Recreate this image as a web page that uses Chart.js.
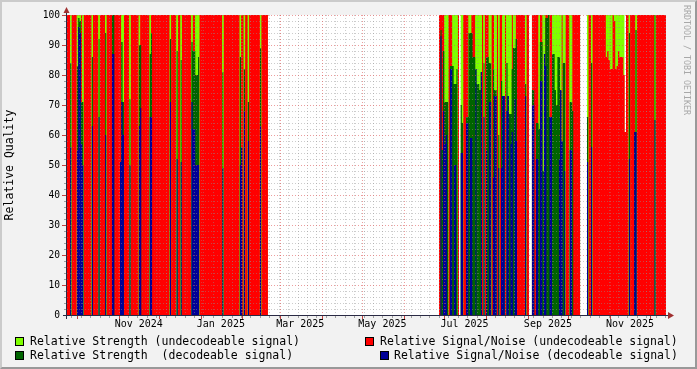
<!DOCTYPE html>
<html><head><meta charset="utf-8">
<script src="https://cdn.jsdelivr.net/npm/chart.js@4/dist/chart.umd.min.js"></script>
<style>
html,body{margin:0;padding:0;}
body{width:697px;height:369px;background:#f2f2f2;position:relative;overflow:hidden;font-family:"DejaVu Sans Mono",monospace;}
#frame{position:absolute;left:0;top:0;width:697px;height:369px;box-sizing:border-box;border-top:2px solid #cbcbcb;border-left:2px solid #cbcbcb;border-right:2px solid #999;border-bottom:2px solid #999;pointer-events:none;}
canvas{position:absolute;left:0;top:0;}
.lg{position:absolute;font-size:11.5px;line-height:14px;white-space:pre;color:#000;}
.sw{position:absolute;width:9px;height:9px;box-sizing:border-box;border:1px solid #000;}
#wm{position:absolute;left:692px;top:5px;transform:rotate(90deg);transform-origin:left top;font-size:8.3px;line-height:10px;color:#a8a8a8;white-space:pre;}
</style></head>
<body>
<canvas id="c" width="697" height="369"></canvas>
<div id="frame"></div>
<div class="sw" style="left:15px;top:337px;background:#7fff00"></div>
<div class="lg" style="left:30px;top:334px">Relative Strength (undecodeable signal)</div>
<div class="sw" style="left:15px;top:351px;background:#006400"></div>
<div class="lg" style="left:30px;top:348px">Relative Strength  (decodeable signal)</div>
<div class="sw" style="left:365px;top:337px;background:#ff0000"></div>
<div class="lg" style="left:380px;top:334px">Relative Signal/Noise (undecodeable signal)</div>
<div class="sw" style="left:380px;top:351px;background:#000096"></div>
<div class="lg" style="left:394px;top:348px">Relative Signal/Noise (decodeable signal)</div>
<div id="wm">RRDTOOL / TOBI OETIKER</div>
<script>
// x values are days since 2024-09-23 00:00
const X_MIN = 0.7, X_MAX = 445.7;
const monthStartDays = [8,39,69,100,131,159,190,220,251,281,312,343,373,404,434];
const tickLabelDays = [54,115,174,235,296,358,419];
const tickLabels = ['Nov 2024','Jan 2025','Mar 2025','May 2025','Jul 2025','Sep 2025','Nov 2025'];

// Relative Strength (undecodeable signal): [firstDay, lastDay, value]
const strengthUndecodedRuns = [[0,149,100],[277,291,100],[293,343,100],[346,381,100],[387,414,100],[416,445,100]];

// Relative Signal/Noise (undecodeable signal): [firstDay, lastDay, value]
const snrUndecodedRuns = [
  [0,2,100],[4,7,100],[11,11,100],[13,18,100],[20,23,100],[25,28,100],[30,40,100],[43,46,100],[48,53,100],[55,61,100],
  [63,76,100],[78,81,100],[83,84,100],[86,92,100],[94,95,100],[99,115,100],[117,128,100],[130,131,100],[133,134,100],
  [136,143,100],[145,149,100],
  [277,280,100],[284,286,100],[291,291,100],[295,298,100],[301,303,100],[309,309,100],[311,313,100],[316,317,100],
  [320,320,100],[322,323,100],[326,326,100],[331,331,100],[334,340,100],[342,343,100],[346,350,100],[352,353,100],
  [356,357,100],[359,360,100],[368,368,100],[371,373,100],[376,381,100],
  [388,389,100],[391,400,100],[401,401,86],[402,402,88],[403,403,85],[404,405,82],[406,406,100],[407,407,98],
  [408,408,82],[409,409,83],[410,410,88],[411,413,86],[414,414,80],[415,415,61],[416,417,100],[419,422,100],
  [424,436,100],[438,445,100]
];

// decoded samples (null = no value)
const decodeDays = [3,8,9,10,11,12,19,24,29,34,35,40,41,42,47,54,55,62,63,77,82,85,93,94,95,96,97,98,116,129,130,132,135,144,
  278,279,280,281,282,283,285,286,287,288,289,290,293,294,297,298,299,300,301,302,303,304,305,306,307,308,310,
  312,313,314,315,317,318,319,321,323,324,325,327,328,329,330,331,332,333,334,341,346,347,
  349,350,351,352,353,354,355,356,357,358,359,360,361,362,363,364,365,366,367,368,369,370,374,375,376,
  387,390,418,422,423,437];
const strengthDecoded = [84,83,99,98,71,71,86,92,94,100,100,51,91,71,72,90,90,87,94,92,88,85,91,88,88,80,80,86,81,86,56,82,71,89,
  95,55,88,71,71,71,83,83,83,77,77,82,70,64,66,66,94,94,94,86,86,82,77,77,75,81,84,
  86,86,84,84,82,75,75,60,78,73,73,84,73,67,67,82,89,89,92,77,75,75,
  64,64,62,91,91,48,80,99,99,100,66,66,87,87,75,70,86,86,75,58,84,84,71,71,68,
  66,84,94,61,95,100];
const snrDecoded = [56,55,96,94,57,50,63,66,60,87,87,51,71,60,50,63,69,66,66,71,52,51,71,62,62,50,50,50,49,50,56,68,58,63,
  93,null,68,57,60,null,82,82,null,50,50,null,54,54,64,64,null,59,59,null,null,82,null,null,null,81,66,
  55,null,71,71,46,73,73,49,49,73,73,68,73,null,57,61,null,72,58,73,70,70,
  52,52,null,78,78,null,87,83,null,null,66,66,null,null,null,null,null,52,75,58,null,48,55,55,null,
  51,56,52,61,61,65];

function runsToPoints(runs) {
  const pts = [];
  let prevEnd = null;
  runs.forEach(([a, b, v]) => {
    if (v === null || v === undefined) return;
    if (prevEnd !== null && prevEnd !== a) pts.push({x: a, y: null});
    pts.push({x: a, y: v});
    pts.push({x: b + 1, y: v});
    prevEnd = b + 1;
  });
  return pts;
}
const dayRuns = (days, vals) => days.map((d, i) => [d, d, vals[i]]).filter(r => r[2] !== null);

const COLORS = {lime:'#7fff00', red:'#ff0000', green:'#006400', blue:'#000096'};
function ds(label, runs, color, order) {
  return {label, data: runsToPoints(runs), backgroundColor: color, borderColor: 'rgba(0,0,0,0)', borderWidth: 0,
    pointRadius: 0, fill: 'origin', tension: 0, spanGaps: false, order};
}

const rrdGrid = {
  id: 'rrdGrid',
  beforeDraw(chart) {
    const {ctx, chartArea: a} = chart;
    ctx.save(); ctx.fillStyle = '#ffffff';
    ctx.fillRect(a.left, a.top, a.right - a.left, a.bottom - a.top);
    ctx.restore();
  },
  afterDatasetsDraw(chart) {
    const {ctx, chartArea: a, scales: {x, y}} = chart;
    const MINOR = 'rgba(143,143,143,0.46)', MAJOR = 'rgba(222,80,80,0.56)';
    const seg = (x1, y1, x2, y2, c) => { ctx.strokeStyle = c; ctx.beginPath(); ctx.moveTo(x1, y1); ctx.lineTo(x2, y2); ctx.stroke(); };
    const yp = v => Math.round(y.getPixelForValue(v)) + 0.5;
    const xp = v => Math.round(x.getPixelForValue(v)) + 0.5;
    const weekDays = [];
    for (let d = 4; d < X_MAX; d += 7) if (d > X_MIN) weekDays.push(d);
    ctx.save();
    ctx.lineWidth = 1;
    ctx.setLineDash([1, 2]);
    for (let v = 2; v < 100; v += 2) if (v % 10) seg(a.left, yp(v), a.right, yp(v), MINOR);
    weekDays.forEach(d => seg(xp(d), a.top, xp(d), a.bottom, MINOR));
    for (let v = 10; v <= 100; v += 10) seg(a.left, yp(v), a.right, yp(v), MAJOR);
    monthStartDays.forEach(d => seg(xp(d), a.top, xp(d), a.bottom, MAJOR));
    ctx.setLineDash([]);
    for (let v = 2; v <= 100; v += 2) {
      if (v % 10) seg(64, yp(v), 66, yp(v), '#a0a0a0'); else seg(62, yp(v), 66, yp(v), '#c04040');
    }
    weekDays.forEach(d => seg(xp(d), 316, xp(d), 318, '#a0a0a0'));
    monthStartDays.forEach(d => seg(xp(d), 316, xp(d), 319, '#c04040'));
    seg(63, 315.5, 669, 315.5, '#2a2a44');
    seg(66.5, 319, 66.5, 11, '#2a2a44');
    ctx.fillStyle = '#a03030';
    ctx.beginPath(); ctx.moveTo(668, 312); ctx.lineTo(674, 315.5); ctx.lineTo(668, 319); ctx.closePath(); ctx.fill();
    ctx.beginPath(); ctx.moveTo(63.5, 13); ctx.lineTo(66.5, 7); ctx.lineTo(69.5, 13); ctx.closePath(); ctx.fill();
    ctx.restore();
  }
};

new Chart(document.getElementById('c'), {
  type: 'line',
  data: {datasets: [
    ds('Relative Signal/Noise (decodeable signal)', dayRuns(decodeDays, snrDecoded), COLORS.blue, 0),
    ds('Relative Strength  (decodeable signal)', dayRuns(decodeDays, strengthDecoded), COLORS.green, 1),
    ds('Relative Signal/Noise (undecodeable signal)', snrUndecodedRuns, COLORS.red, 2),
    ds('Relative Strength (undecodeable signal)', strengthUndecodedRuns, COLORS.lime, 3)
  ]},
  options: {
    responsive: false, devicePixelRatio: 1, animation: false, events: [],
    layout: {padding: {left: 0, right: 31, top: 15, bottom: 34}},
    plugins: {legend: {display: false}, tooltip: {enabled: false}},
    scales: {
      x: {
        type: 'linear', min: X_MIN, max: X_MAX,
        afterBuildTicks(s) { s.ticks = tickLabelDays.map(v => ({value: v})); },
        afterFit(s) { s.height = 20; },
        grid: {display: false, drawTicks: false}, border: {display: false},
        ticks: {autoSkip: false, maxRotation: 0, padding: 3, color: '#000',
          font: {family: 'DejaVu Sans Mono', size: 10},
          callback: (v) => tickLabels[tickLabelDays.indexOf(v)]}
      },
      y: {
        min: 0, max: 100,
        afterFit(s) { s.width = 67; },
        grid: {display: false, drawTicks: false}, border: {display: false},
        ticks: {stepSize: 10, padding: 7, color: '#000', font: {family: 'DejaVu Sans Mono', size: 9.6}},
        title: {display: true, text: 'Relative Quality', color: '#000', padding: {top: 3, bottom: 0},
          font: {family: 'DejaVu Sans Mono', size: 11.5}}
      }
    }
  },
  plugins: [rrdGrid]
});
</script>
</body></html>
